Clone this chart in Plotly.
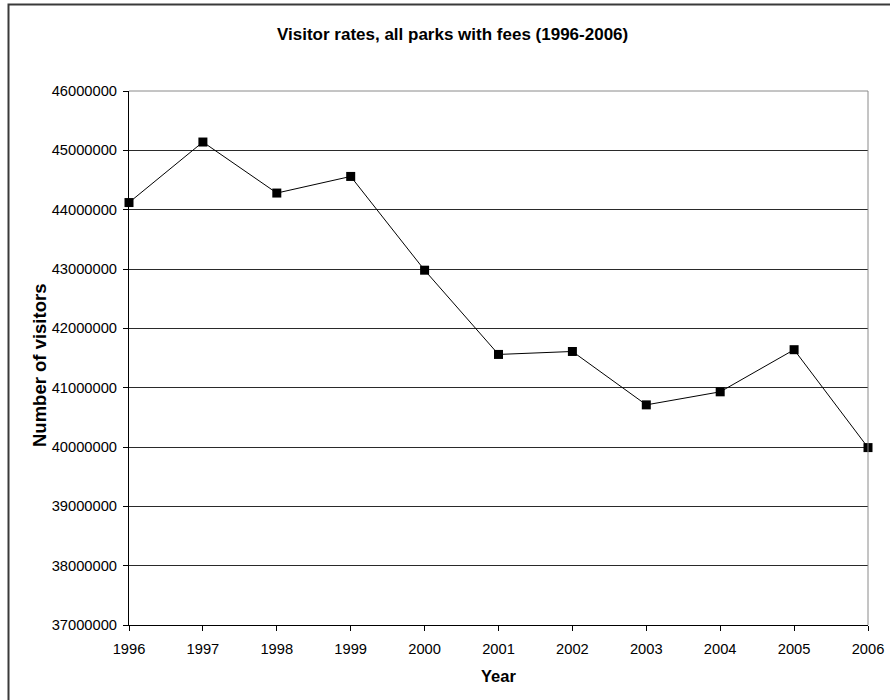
import plotly.graph_objects as go

# Annual visitor counts for parks charging entrance fees
years = [1996, 1997, 1998, 1999, 2000, 2001, 2002, 2003, 2004, 2005, 2006]
visitors = [44120000, 45140000, 44280000, 44560000, 42980000, 41560000,
            41610000, 40710000, 40930000, 41640000, 39990000]
y_ticks = [37000000, 38000000, 39000000, 40000000, 41000000, 42000000,
           43000000, 44000000, 45000000, 46000000]

W, H = 890, 700
L, R, T, B = 129, 22, 91, 75
pw, ph = W - L - R, H - T - B

FONT = "Liberation Sans, Arial, sans-serif"

fig = go.Figure()
fig.add_trace(go.Scatter(
    x=years, y=visitors, mode="lines+markers",
    line=dict(color="black", width=1),
    marker=dict(symbol="square", size=9, color="black"),
    cliponaxis=False, showlegend=False,
))

fig.update_layout(
    width=W, height=H,
    margin=dict(l=L, r=R, t=T, b=B, autoexpand=False),
    paper_bgcolor="white", plot_bgcolor="white",
    font=dict(family=FONT, size=14.7, color="black"),
    xaxis=dict(
        range=[1996, 2006], tickmode="array", tickvals=years,
        ticktext=[str(y) for y in years],
        showgrid=False, zeroline=False, automargin=False,
        showline=True, linecolor="black", linewidth=1,
        ticks="outside", ticklen=5, tickcolor="black",
        ticklabelstandoff=5,
    ),
    yaxis=dict(
        range=[37000000, 46000000], tickmode="array", tickvals=y_ticks,
        ticktext=[str(v) for v in y_ticks],
        showgrid=True, gridcolor="#2a2a2a", gridwidth=1, zeroline=False,
        automargin=False,
        showline=True, linecolor="black", linewidth=1,
        ticks="outside", ticklen=5, tickcolor="black",
        ticklabelstandoff=3,
    ),
)

# Gray frame on the top and right of the plotting area
fig.add_shape(type="line", xref="paper", yref="paper", x0=0, x1=1, y0=1, y1=1,
              line=dict(color="#8a8a8a", width=1), layer="above")
fig.add_shape(type="line", xref="paper", yref="paper", x0=1, x1=1, y0=0, y1=1,
              line=dict(color="#8a8a8a", width=1), layer="above")

# Outer chart border
def px_x(p):
    return (p - L) / pw

def px_y(p):
    return (H - B - p) / ph

fig.add_shape(type="rect", xref="paper", yref="paper",
              x0=px_x(8.5), x1=px_x(W + 20), y0=px_y(H + 20), y1=px_y(4.5),
              line=dict(color="#3a3a3a", width=2), fillcolor="rgba(0,0,0,0)",
              layer="above")

fig.add_annotation(text="<b>Visitor rates, all parks with fees (1996-2006)</b>",
                   xref="paper", yref="paper", x=px_x(452.5), y=px_y(34),
                   xanchor="center", yanchor="middle", showarrow=False,
                   font=dict(family=FONT, size=17))
fig.add_annotation(text="<b>Number of visitors</b>",
                   xref="paper", yref="paper", x=px_x(39), y=px_y(366),
                   xanchor="center", yanchor="middle", showarrow=False,
                   textangle=-90, font=dict(family=FONT, size=18.5))
fig.add_annotation(text="<b>Year</b>",
                   xref="paper", yref="paper", x=0.5, y=px_y(676),
                   xanchor="center", yanchor="middle", showarrow=False,
                   font=dict(family=FONT, size=16.5))

fig.write_html("out.html")
